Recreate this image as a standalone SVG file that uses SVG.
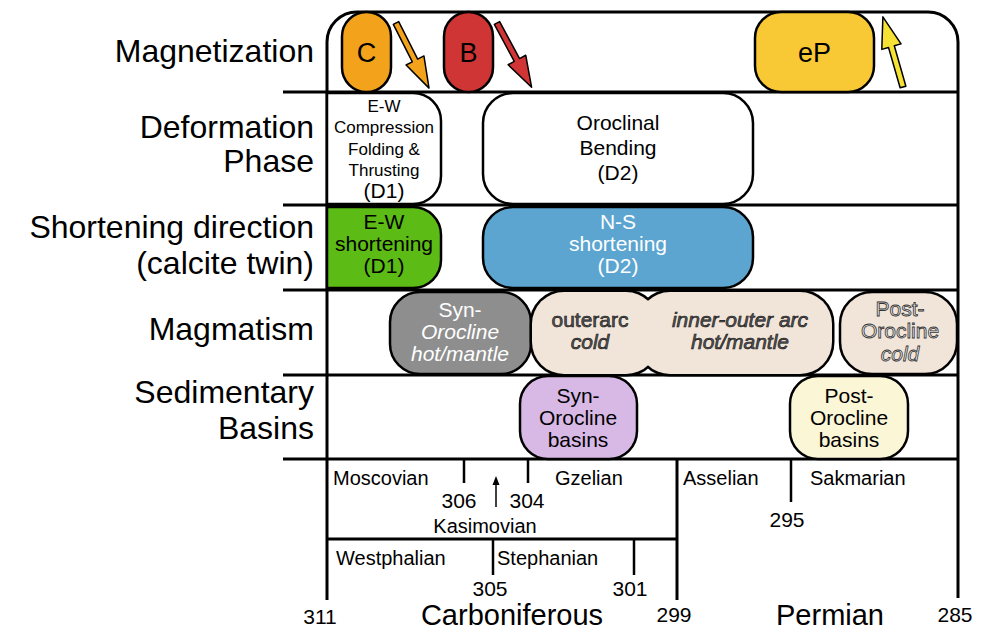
<svg xmlns="http://www.w3.org/2000/svg" width="986" height="632" viewBox="0 0 986 632">
<style>
text{font-family:"Liberation Sans",Arial,sans-serif;fill:#000}
.lab{font-size:32px;text-anchor:end}
.bx{font-size:21px;text-anchor:middle}
.sm{font-size:17px;text-anchor:middle}
.ts{font-size:20px}
.num{font-size:21px;text-anchor:middle}
.big{font-size:29px;text-anchor:middle}
.it{font-style:italic}
.wh{fill:#fff}
.ol{fill:#555;stroke:#111;stroke-width:0.6px}
.olw{fill:#e6e6e6;stroke:#333;stroke-width:0.8px}
.ln{stroke:#000;stroke-width:3;fill:none}
.tk{stroke:#000;stroke-width:2.5;fill:none}
.box{stroke:#000;stroke-width:2.5}
.arr{stroke:#000;stroke-width:1.5;stroke-linejoin:round}
</style>
<defs>
<polygon id="arrow" points="0,-3 42,-3 42,-10 73,0 42,10 42,3 0,3"/>
</defs>

<g id="row-labels">
<text class="lab" x="314" y="62">Magnetization</text>
<text class="lab" x="314" y="138">Deformation</text>
<text class="lab" x="314" y="172">Phase</text>
<text class="lab" x="314" y="238">Shortening direction</text>
<text class="lab" x="314" y="274">(calcite twin)</text>
<text class="lab" x="314" y="340">Magmatism</text>
<text class="lab" x="314" y="403">Sedimentary</text>
<text class="lab" x="314" y="439">Basins</text>
</g>

<g id="frame">
<path class="ln" d="M327 600 L327 42 A30 30 0 0 1 357 12 L928 12 A30 30 0 0 1 958 42 L958 598"/>
<line class="ln" x1="283" y1="92" x2="958" y2="92"/>
<line class="ln" x1="283" y1="205" x2="958" y2="205"/>
<line class="ln" x1="283" y1="290" x2="958" y2="290"/>
<line class="ln" x1="283" y1="375" x2="958" y2="375"/>
<line class="ln" x1="283" y1="459" x2="958" y2="459"/>
</g>

<g id="mag-C">
<rect class="box" x="342" y="12" width="49" height="80" rx="24.5" fill="#F3A21C"/>
<text x="366.5" y="62" font-size="27" text-anchor="middle">C</text>
</g>
<g id="mag-B">
<rect class="box" x="444" y="12" width="49" height="80" rx="24.5" fill="#CF3535"/>
<text x="468.5" y="62" font-size="27" text-anchor="middle">B</text>
</g>
<g id="mag-eP">
<rect class="box" x="755" y="12" width="119" height="80" rx="26" fill="#F8C835"/>
<text x="814.5" y="62" font-size="27" text-anchor="middle">eP</text>
</g>

<g id="connectors">
<use href="#arrow" class="arr" fill="#F3A21C" transform="translate(396,23) rotate(63.1)"/>
<use href="#arrow" class="arr" fill="#D13434" transform="translate(497,23) rotate(61.7)"/>
<use href="#arrow" class="arr" fill="#F6E234" transform="translate(903,87) rotate(254)"/>
</g>

<g id="def-D1">
<path class="box" fill="#fff" d="M327 93 L413 93 A28 28 0 0 1 441 121 L441 176 A28 28 0 0 1 413 204 L327 204 Z"/>
<text class="sm" x="384" y="112" font-size="16">E-W</text>
<text class="sm" x="384" y="133">Compression</text>
<text class="sm" x="384" y="155">Folding &amp;</text>
<text class="sm" x="384" y="176">Thrusting</text>
<text class="bx" x="384" y="198">(D1)</text>
</g>
<g id="def-D2">
<rect class="box" x="483" y="93" width="270" height="111" rx="30" fill="#fff"/>
<text class="bx" x="618" y="130">Oroclinal</text>
<text class="bx" x="618" y="155">Bending</text>
<text class="bx" x="618" y="180">(D2)</text>
</g>

<g id="short-D1">
<path class="box" fill="#5DBB15" d="M327 207 L413 207 A28 28 0 0 1 441 235 L441 260 A28 28 0 0 1 413 288 L327 288 Z"/>
<text class="bx" x="384" y="229">E-W</text>
<text class="bx" x="384" y="251">shortening</text>
<text class="bx" x="384" y="273">(D1)</text>
</g>
<g id="short-D2">
<rect class="box" x="483" y="207" width="270" height="81" rx="30" fill="#5CA5D1"/>
<text class="bx wh" x="618" y="229">N-S</text>
<text class="bx wh" x="618" y="251">shortening</text>
<text class="bx wh" x="618" y="273">(D2)</text>
</g>

<g id="mag-syn">
<rect class="box" x="390" y="292" width="141" height="82" rx="30" fill="#8E8E8E"/>
<text class="bx wh" x="460" y="317">Syn-</text>
<text class="bx wh it" x="460" y="339">Orocline</text>
<text class="bx wh it" x="460" y="361">hot/mantle</text>
</g>
<g id="mag-arcs">
<rect x="532" y="292" width="126" height="82" rx="32" stroke="#000" stroke-width="5" fill="#F1E4D9"/>
<rect x="638" y="292" width="194" height="82" rx="32" stroke="#000" stroke-width="5" fill="#F1E4D9"/>
<rect x="532" y="292" width="126" height="82" rx="32" fill="#F1E4D9"/>
<rect x="638" y="292" width="194" height="82" rx="32" fill="#F1E4D9"/>
<text class="bx ol" x="590" y="327">outerarc</text>
<text class="bx ol it" x="590" y="349">cold</text>
<text class="bx ol it" x="740" y="327">inner-outer arc</text>
<text class="bx ol it" x="740" y="349">hot/mantle</text>
</g>
<g id="mag-post">
<rect class="box" x="840" y="292" width="117" height="82" rx="32" fill="#F1E4D9"/>
<text class="bx olw" x="900" y="316">Post-</text>
<text class="bx olw" x="900" y="338">Orocline</text>
<text class="bx olw it" x="900" y="361">cold</text>
</g>

<g id="sed-syn">
<rect class="box" x="520" y="376" width="117" height="83" rx="28" fill="#D8B9E6"/>
<text class="bx" x="578" y="403">Syn-</text>
<text class="bx" x="578" y="425">Orocline</text>
<text class="bx" x="578" y="447">basins</text>
</g>
<g id="sed-post">
<rect class="box" x="790" y="376" width="118" height="83" rx="28" fill="#FBF6D6"/>
<text class="bx" x="849" y="403">Post-</text>
<text class="bx" x="849" y="425">Orocline</text>
<text class="bx" x="849" y="447">basins</text>
</g>

<g id="timescale">
<line class="tk" x1="464" y1="459" x2="464" y2="483"/>
<line class="tk" x1="528" y1="459" x2="528" y2="483"/>
<line x1="496" y1="507" x2="496" y2="483" stroke="#000" stroke-width="1.5"/>
<polygon points="492.5,485 496,476 499.5,485" fill="#000"/>
<line class="ln" x1="677" y1="459" x2="677" y2="600"/>
<line class="ln" x1="327" y1="539" x2="677" y2="539"/>
<line class="tk" x1="493" y1="539" x2="493" y2="575"/>
<line class="tk" x1="634" y1="539" x2="634" y2="575"/>
<line class="tk" x1="791" y1="459" x2="791" y2="502"/>
<text class="ts" x="333" y="485">Moscovian</text>
<text class="ts" x="555" y="485">Gzelian</text>
<text class="ts" x="683" y="485">Asselian</text>
<text class="ts" x="810" y="485">Sakmarian</text>
<text class="num" x="459" y="508">306</text>
<text class="num" x="527" y="508">304</text>
<text class="ts" x="485" y="533" text-anchor="middle">Kasimovian</text>
<text class="ts" x="336" y="565">Westphalian</text>
<text class="ts" x="497" y="565">Stephanian</text>
<text class="num" x="490" y="596">305</text>
<text class="num" x="630" y="596">301</text>
<text class="num" x="787" y="527">295</text>
<text class="num" x="320" y="624">311</text>
<text class="num" x="674" y="622">299</text>
<text class="num" x="955" y="622">285</text>
<text class="big" x="512" y="625">Carboniferous</text>
<text class="big" x="830" y="625">Permian</text>
</g>
</svg>
